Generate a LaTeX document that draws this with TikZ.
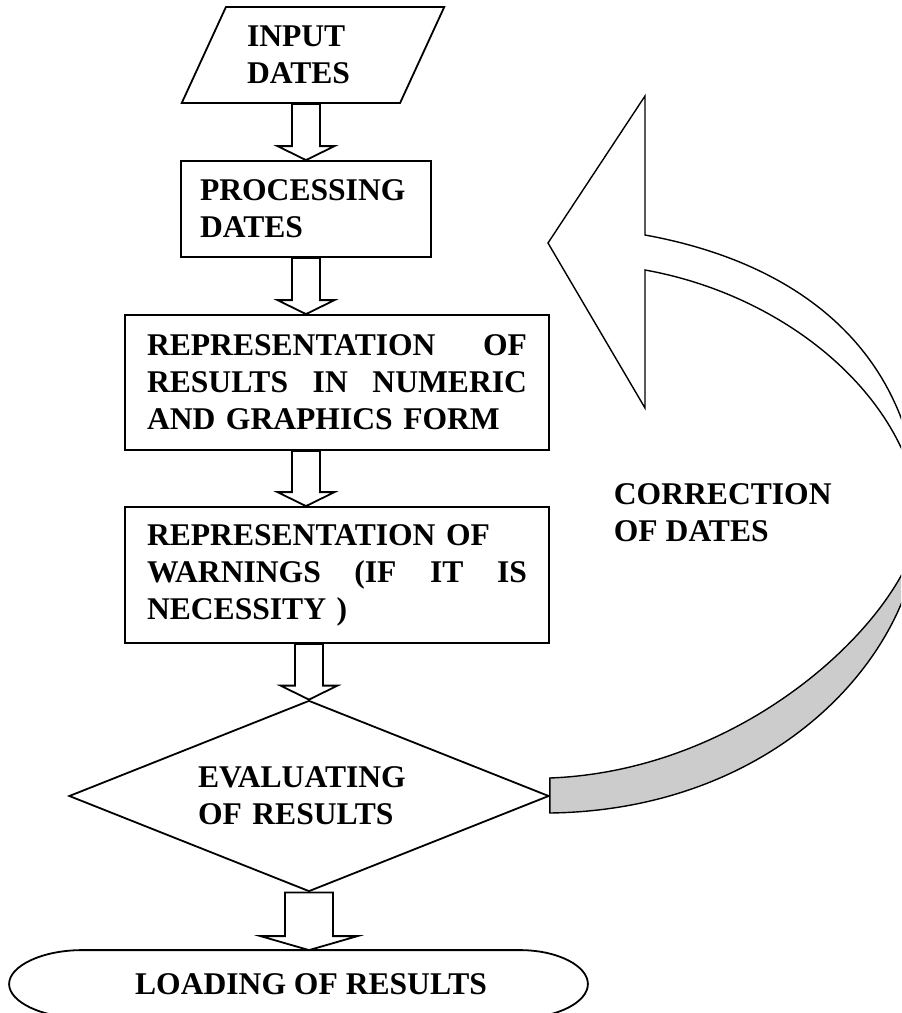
\documentclass[tikz,border=0pt]{standalone}
\usepackage{fontspec}
\setmainfont{Liberation Serif}
\usetikzlibrary{calc,shapes.geometric}

% Hollow block arrow from #3 down to #4.
% #1 half shaft width, #2 half head width.
\newcommand{\blockarrow}[4]{%
    \draw[fill=white]
        ($(#3)+(-#1,0)$)
        -- ($(#4)+(-#1,-14)$)
        -- ($(#4)+(-#2,-14)$)
        -- (#4)
        -- ($(#4)+(#2,-14)$)
        -- ($(#4)+(#1,-14)$)
        -- ($(#3)+(#1,0)$)
        -- cycle;
}

\begin{document}
\begin{tikzpicture}[x=0.5pt,y=-0.5pt,line width=0.9pt,
    every node/.style={font=\fontsize{15.8}{18.5}\selectfont\bfseries,inner sep=0pt},
    iobox/.style={draw,trapezium,trapezium left angle=60,trapezium right angle=120,
        trapezium stretches=true,minimum width=132pt,minimum height=48pt,align=left},
    procbox/.style={draw,rectangle,align=left},
    decision/.style={draw,diamond,shape aspect=2.5,minimum width=240pt,
        minimum height=95.5pt,align=left},
    terminal/.style={minimum width=288.5pt,minimum height=33pt}]

% Page frame, the loop arrow runs off the right side.
\useasboundingbox (0,0) rectangle (901,1013);
\clip (0,0) rectangle (901,1013);

%
% Flow chart blocks, top to bottom.
\node[iobox,text width=66pt] (input) at (313,55) {INPUT\\DATES};

\node[procbox,minimum width=125pt,minimum height=48pt,text width=106pt]
    (proc) at (306,209) {PROCESSING\\DATES};

\node[procbox,minimum width=212pt,minimum height=67.5pt,text width=190pt]
    (rep) at (337,382.5)
    {REPRESENTATION\hfill OF\\RESULTS\hfill IN\hfill NUMERIC\\AND GRAPHICS FORM};

\node[procbox,minimum width=212pt,minimum height=68pt,text width=190pt]
    (warn) at (337,575)
    {REPRESENTATION OF\\WARNINGS\hfill (IF\hfill IT\hfill IS\\NECESSITY )};

\node[decision,text width=111pt] (eval) at (309,796) {EVALUATING\\OF RESULTS};

\node[terminal] (loading) at (298.5,984) {\hspace*{12.5pt}LOADING OF RESULTS};

% Terminal outline with flat top and bottom.
\draw
    % start on the flat top
    ($(loading.north west)+(73,0)$)
    -- ($(loading.north east)+(-68,0)$)
    % round right end
    .. controls ($(loading.north east)+(-30,0)$) and ($(loading.east)+(0,-18)$) .. (loading.east)
    .. controls ($(loading.east)+(0,18)$) and ($(loading.south east)+(-30,0)$) .. ($(loading.south east)+(-68,0)$)
    -- ($(loading.south west)+(73,0)$)
    % round left end
    .. controls ($(loading.south west)+(33,0)$) and ($(loading.west)+(0,18)$) .. (loading.west)
    .. controls ($(loading.west)+(0,-18)$) and ($(loading.north west)+(33,0)$) .. cycle;

%
% Block arrows between the blocks.
\coordinate (a1s) at (proc.north |- input.south);
\blockarrow{14}{28.5}{a1s}{proc.north}

\coordinate (a2e) at (proc.south |- rep.north);
\blockarrow{14}{28.5}{proc.south}{a2e}

\coordinate (a3s) at (proc.south |- rep.south);
\coordinate (a3e) at (proc.south |- warn.north);
\blockarrow{14}{28.5}{a3s}{a3e}

\coordinate (a4s) at (eval.north |- warn.south);
\blockarrow{14}{28.5}{a4s}{eval.north}

% wider one down to the terminal
\coordinate (a5e) at (eval.south |- loading.north);
\blockarrow{24}{48.5}{eval.south}{a5e}

%
% Loop back arrow, correction of dates.
\coordinate (fixtip) at (548,243);
% where the ribbon turns over, off the page
\coordinate (bend) at (920,516);

% Front face with the head.
\draw[line width=0.7pt,fill=white]
    (fixtip) -- ++(97,-147) -- ++(0,139)
    .. controls (810,265) and (915,360) .. (bend)
    .. controls (910,400) and (790,296) .. (645,270)
    -- (645,408) -- cycle;

% Back face, grey, leaving the decision.
\draw[line width=0.7pt,fill=gray!40]
    ($(eval.east)+(0,-18)$)
    .. controls (760,770) and (920,600) .. (bend)
    .. controls (920,650) and (780,810) .. ($(eval.east)+(0,17)$)
    -- cycle;

\node[anchor=west,align=left] (fixlabel) at (613,513) {CORRECTION\\OF DATES};

\end{tikzpicture}
\end{document}
